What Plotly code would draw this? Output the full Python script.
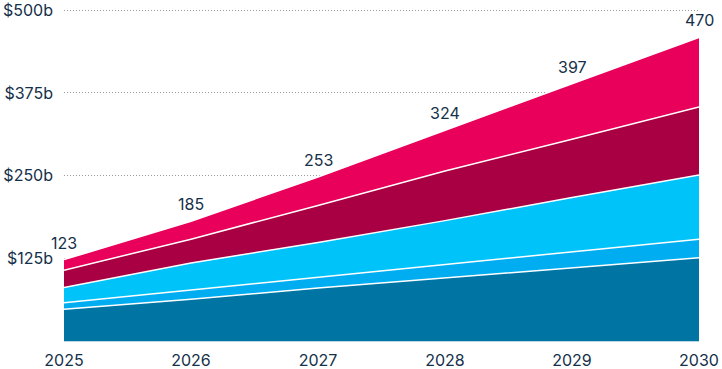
import plotly.graph_objects as go

years = [2025, 2026, 2027, 2028, 2029, 2030]
year_labels = ["2025", "2026", "2027", "2028", "2029", "2030"]

# Stacked segments (billions), bottom to top
teal = [48, 63, 80, 95, 111, 126]
blue = [10, 14, 16, 20, 23, 28]
light_blue = [23, 41, 53, 67, 83, 97]
crimson = [26, 36, 56, 75, 88, 103]
pink = [16, 27, 43, 62, 84, 105]

total_labels = ["123", "185", "253", "324", "397", "470"]

y_tick_vals = [125, 250, 375, 500]
y_tick_text = ["$125b", "$250b", "$375b", "$500b"]

series = [
    ("teal", teal, "#0074A2"),
    ("blue", blue, "#00ADF0"),
    ("light_blue", light_blue, "#00C4F9"),
    ("crimson", crimson, "#A80043"),
    ("pink", pink, "#E8005A"),
]

TEXT = "#15304A"
FONT = "Inter"

fig = go.Figure()
for name, vals, color in series:
    fig.add_trace(go.Scatter(
        x=years, y=vals, name=name, mode="lines",
        stackgroup="one",
        line=dict(color="white", width=1.5),
        fillcolor=color,
        hoverinfo="skip",
    ))

totals = [sum(v) for v in zip(teal, blue, light_blue, crimson, pink)]
for x, t, lab in zip(years, totals, total_labels):
    fig.add_annotation(
        x=x, y=t, text=lab, showarrow=False,
        yanchor="middle", yshift=17,
        font=dict(family=FONT, size=16, color=TEXT),
    )

fig.update_layout(
    width=722, height=369,
    margin=dict(l=64, r=23, t=9, b=28, autoexpand=False),
    paper_bgcolor="white", plot_bgcolor="white",
    showlegend=False,
    font=dict(family=FONT, size=16, color=TEXT),
    xaxis=dict(
        range=[2025, 2030],
        tickvals=years, ticktext=year_labels,
        showgrid=False, zeroline=False,
        showline=True, linecolor="#B8D6E3", linewidth=1,
        ticks="", ticklabelstandoff=5, automargin=False,
        ticklabeloverflow="allow",
        tickfont=dict(family=FONT, size=16, color=TEXT),
    ),
    yaxis=dict(
        range=[0, 502],
        tickvals=y_tick_vals, ticktext=y_tick_text,
        showgrid=True, gridcolor="#9A9A9A", gridwidth=1, griddash="1px,2px",
        zeroline=False, showline=False, ticks="",
        ticklabelstandoff=10, automargin=False,
        ticklabeloverflow="allow",
        tickfont=dict(family=FONT, size=16, color=TEXT),
    ),
)

fig.write_html(
    "out.html",
    config={"displayModeBar": False},
    post_script="document.body.style.margin='0';",
)
